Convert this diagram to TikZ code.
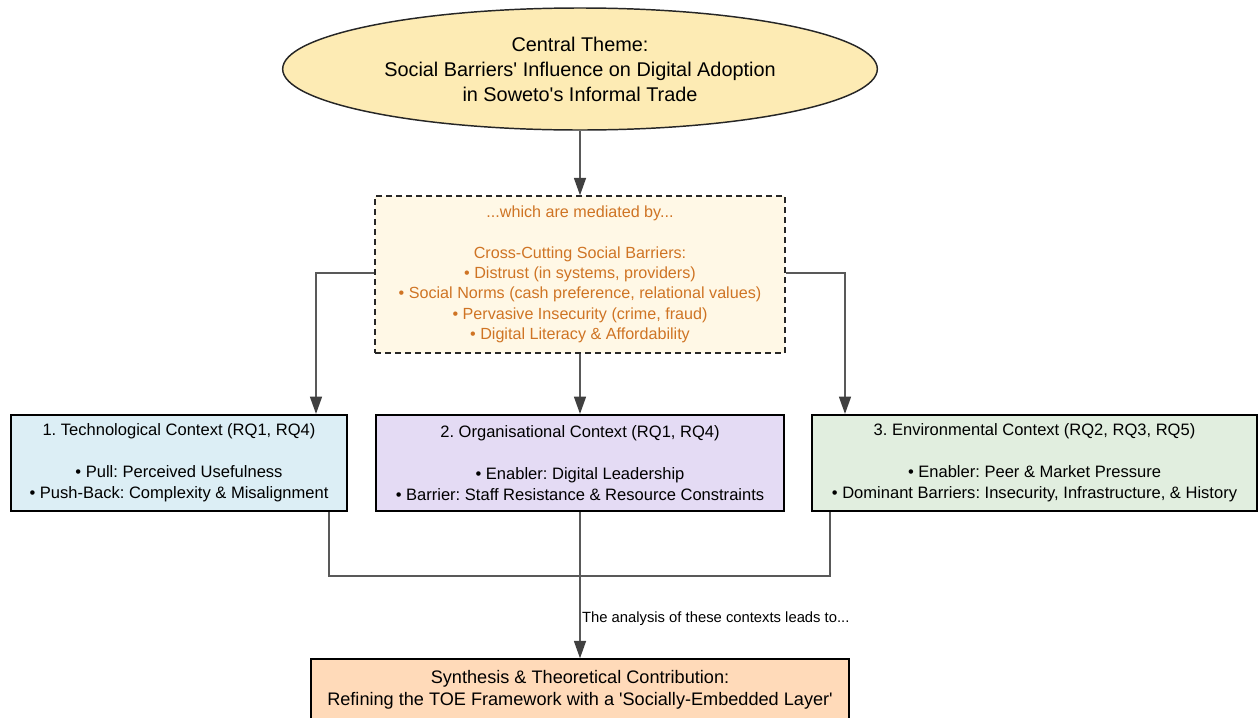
\documentclass[tikz,border=0pt]{standalone}
\usepackage{fontspec}
\setmainfont{Liberation Sans}[Ligatures=TeXOff]
\usepackage{tikz}
\usetikzlibrary{shapes.geometric}
\usetikzlibrary{arrows.meta}
\definecolor{themefill}{HTML}{FDEBB4}
\definecolor{medfill}{HTML}{FFF8E6}
\definecolor{medtext}{HTML}{CF7424}
\definecolor{techfill}{HTML}{DCEEF5}
\definecolor{orgfill}{HTML}{E4DBF4}
\definecolor{envfill}{HTML}{E1EEDF}
\definecolor{synthfill}{HTML}{FFDAB9}
\tikzstyle{theme}=[draw=black!85, ellipse, fill=themefill, line width=1.1pt, minimum width=446pt, minimum height=91.5pt, inner sep=0pt, align=center, font=\fontsize{14.9}{18.75}\selectfont]
\tikzstyle{mediator}=[draw=black!85, dashed, dash pattern=on 4.5pt off 3pt, rectangle, fill=medfill, text=medtext, line width=1.1pt, minimum width=307.5pt, minimum height=117.75pt, inner sep=0pt, align=center, font=\fontsize{12.1}{15.2}\selectfont]
\tikzstyle{ctx}=[draw=black, rectangle, line width=1.6pt, minimum height=72pt, inner sep=0pt, align=center, font=\fontsize{12.4}{15.75}\selectfont]
\tikzstyle{line}=[draw=black!65, line width=1.1pt]
\tikzstyle{link}=[line, -{Triangle[length=13pt,width=9pt,color=black!75]}]

\begin{document}
\frenchspacing
\begin{tikzpicture}[x=0.75pt, y=-0.75pt]
      % \draw[help lines] (0,0) grid (1258,718);
      \useasboundingbox (0,0) rectangle (1258,718);
      \node [theme] (theme) at (580,69) {Central Theme:\\Social Barriers' Influence on Digital Adoption\\in Soweto's Informal Trade};
      \node [mediator] (medi) at (580,274.5) {...which are mediated by...\\[15.2pt]
        Cross-Cutting Social Barriers:\\
        • Distrust (in systems, providers)\\
        • Social Norms (cash preference, relational values)\\
        • Pervasive Insecurity (crime, fraud)\\
        • Digital Literacy \& Affordability};
      \node [ctx, fill=techfill, minimum width=252pt] (tech) at (179,463) {1. Technological Context (RQ1, RQ4)\\[15.75pt]
        • Pull: Perceived Usefulness\\
        • Push-Back: Complexity \& Misalignment};
      \node [ctx, fill=orgfill, minimum width=306pt] (org) at (580,463) {2. Organisational Context (RQ1, RQ4)\\[15.75pt]
        • Enabler: Digital Leadership\\
        • Barrier: Staff Resistance \& Resource Constraints};
      \node [ctx, fill=envfill, minimum width=333.75pt] (env) at (1034.5,463) {3. Environmental Context (RQ2, RQ3, RQ5)\\[15.75pt]
        • Enabler: Peer \& Market Pressure\\
        • Dominant Barriers: Insecurity, Infrastructure, \& History};
      \node [ctx, fill=synthfill, line width=1.1pt, minimum width=403.5pt, minimum height=46.5pt, font=\fontsize{13.6}{16.5}\selectfont] (synth) at (580,690) {Synthesis \& Theoretical Contribution:\\Refining the TOE Framework with a 'Socially-Embedded Layer'};

      \coordinate (tl) at (316,273);
      \coordinate (tr) at (845,273);
      \coordinate (bl) at (329,576);
      \coordinate (br) at (830,576);
      \coordinate (join) at (580,576);

      \path [link] (theme.south) -- (medi.north);
      \path [link] (medi.south) -- (org.north);
      \path [link] (medi.west |- tl) -| (tech.north -| tl);
      \path [link] (medi.east |- tr) -| (env.north -| tr);
      \path [line] (tech.south -| bl) -- (bl) -- (join);
      \path [line] (env.south -| br) -- (br) -- (join);
      \path [link] (org.south) -- node [pos=0.73, anchor=west, inner sep=1pt, font=\fontsize{11.1}{13}\selectfont] {The analysis of these contexts leads to...} (synth.north);
\end{tikzpicture}
\end{document}
